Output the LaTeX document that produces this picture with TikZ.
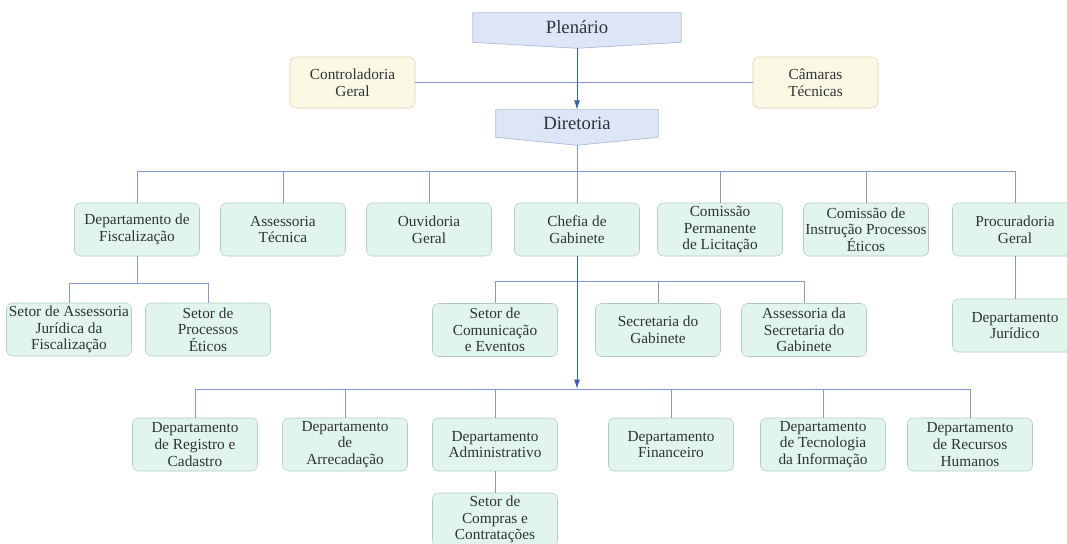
\documentclass[tikz,border=0pt]{standalone}
\usepackage{fontspec}
\setmainfont{Liberation Serif}
\usetikzlibrary{arrows.meta,calc,backgrounds}

\definecolor{boxgreen}{HTML}{E2F5EC}
\definecolor{edgegreen}{HTML}{B4CBBF}
\definecolor{boxyellow}{HTML}{FBF8E3}
\definecolor{edgeyellow}{HTML}{D9D4B6}
\definecolor{boxblue}{HTML}{DCE6F6}
\definecolor{edgeblue}{HTML}{B2C1DB}
\definecolor{linkblue}{HTML}{8399CD}
\definecolor{tipblue}{HTML}{3C5FB5}
\definecolor{inkgray}{HTML}{2E3338}

\begin{document}
\begin{tikzpicture}[
        x=0.75pt, y=-0.75pt, % пиксели, ось y вниз
        cell/.style={rectangle, rounded corners=4.5pt, draw=edgegreen, fill=boxgreen,
                align=center, inner sep=0.5pt, minimum width=93.75pt, minimum height=39.75pt,
                text=inkgray, font=\fontsize{11.5}{12.5}\selectfont}, % Стиль узлов
        side/.style={cell, draw=edgeyellow, fill=boxyellow, minimum height=38.25pt},
        banner/.style={align=center, inner sep=0pt, text=inkgray, font=\fontsize{14}{16}\selectfont},
        bannerbg/.style={draw=edgeblue, fill=boxblue, line width=0.6pt},
        link/.style={draw=linkblue, line width=0.75pt},
        arrowlink/.style={link, -{Latex[length=7pt, width=4.5pt]}, tipblue},
    ]

    \useasboundingbox (0,0) rectangle (1067,543);

    % верхний уровень
    \node[banner, minimum width=156pt, minimum height=21.75pt] (plen) at (577,27.5) {Plenário};
    \coordinate (plen tip) at ($(plen.south)+(0,6)$);
    \node[side] (ctrl) at (352.5,82.5) {Controladoria\\Geral};
    \node[side] (cam) at (815.5,82.5) {Câmaras\\Técnicas};
    \node[banner, minimum width=121.5pt, minimum height=20.25pt] (dir) at (577,123.5) {Diretoria};
    \coordinate (dir tip) at ($(dir.south)+(0,8)$);

    \begin{scope}[on background layer]
        \draw[bannerbg] (plen.north west) -- (plen.north east) -- (plen.south east)
            -- (plen tip) -- (plen.south west) -- cycle;
        \draw[bannerbg] (dir.north west) -- (dir.north east) -- (dir.south east)
            -- (dir tip) -- (dir.south west) -- cycle;
    \end{scope}

    % второй уровень
    \node[cell] (fisc) at (137,229.5) {Departamento de\\Fiscalização};
    \node[cell] (asstec) at (283,229.5) {Assessoria\\Técnica};
    \node[cell] (ouv) at (429,229.5) {Ouvidoria\\Geral};
    \node[cell] (chefia) at (577,229.5) {Chefia de\\Gabinete};
    \node[cell] (cpl) at (720,229.5) {Comissão\\Permanente\\de Licitação};
    \node[cell] (cipe) at (866,229.5) {Comissão de\\Instrução Processos\\Éticos};
    \node[cell] (proc) at (1015,229.5) {Procuradoria\\Geral};

    % третий уровень
    \node[cell] (sajf) at (69,329.5) {Setor de Assessoria\\Jurídica da\\Fiscalização};
    \node[cell] (spe) at (208,329.5) {Setor de\\Processos\\Éticos};
    \node[cell] (scom) at (495,330) {Setor de\\Comunicação\\e Eventos};
    \node[cell] (sgab) at (658,330) {Secretaria do\\Gabinete};
    \node[cell] (asg) at (804,330) {Assessoria da\\Secretaria do\\Gabinete};
    \node[cell] (jur) at (1015,325.5) {Departamento\\Jurídico};

    % нижний уровень
    \node[cell] (reg) at (195,444.5) {Departamento\\de Registro e\\Cadastro};
    \node[cell] (arr) at (345,444.5) {Departamento\\de\\Arrecadação};
    \node[cell] (adm) at (495,444.5) {Departamento\\Administrativo};
    \node[cell] (fin) at (671,444.5) {Departamento\\Financeiro};
    \node[cell] (ti) at (823,444.5) {Departamento\\de Tecnologia\\da Informação};
    \node[cell] (rh) at (970,444.5) {Departamento\\de Recursos\\Humanos};
    \node[cell] (compras) at (495,519.5) {Setor de\\Compras e\\Contratações};

    % шины
    \coordinate (bus1) at (577,171);
    \coordinate (fbus) at (137,283);
    \coordinate (cbus) at (577,281);
    \coordinate (bus3) at (577,389);

    % связи
    \draw[link] (ctrl) -- (cam);
    \draw[arrowlink] (plen tip) -- (dir.north);
    \draw[link] (dir tip) -- (chefia.north);
    \draw[link] (bus1 -| fisc) -- (bus1 -| proc);
    \foreach \n in {fisc,asstec,ouv,cpl,cipe,proc}
        \draw[link] (bus1 -| \n) -- (\n.north);
    \draw[link] (fisc.south) -- (fbus);
    \draw[link] (fbus -| sajf) -- (fbus -| spe);
    \foreach \n in {sajf,spe}
        \draw[link] (fbus -| \n) -- (\n.north);
    \draw[link] (cbus -| scom) -- (cbus -| asg);
    \foreach \n in {scom,sgab,asg}
        \draw[link] (cbus -| \n) -- (\n.north);
    \draw[link] (proc) -- (jur);
    \draw[arrowlink] (chefia.south) -- (bus3);
    \draw[link] (bus3 -| reg) -- (bus3 -| rh);
    \foreach \n in {reg,arr,adm,fin,ti,rh}
        \draw[link] (bus3 -| \n) -- (\n.north);
    \draw[link] (adm) -- (compras);
\end{tikzpicture}
\end{document}
